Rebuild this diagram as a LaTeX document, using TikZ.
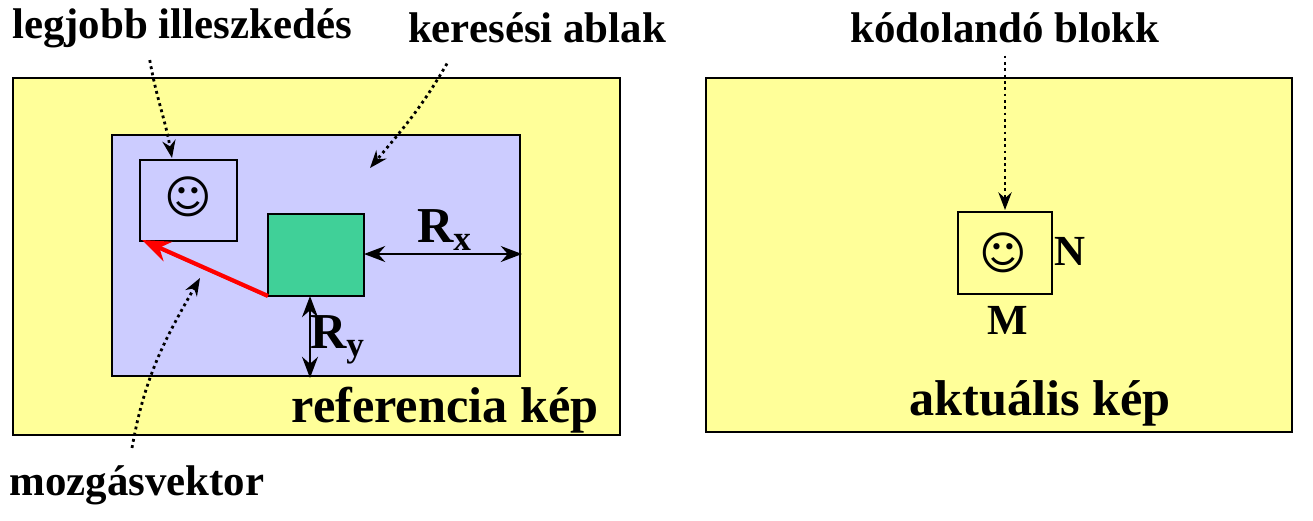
\documentclass[tikz,border=0pt]{standalone}
\usepackage{fontspec}
\setmainfont{Liberation Serif}
\newfontfamily\symf{DejaVu Sans}
\usetikzlibrary{arrows.meta}
\definecolor{yel}{HTML}{FFFF99}
\definecolor{lil}{HTML}{CCCCFF}
\definecolor{grn}{HTML}{40D098}
\tikzset{
 lab/.style={font=\bfseries\fontsize{12.2}{14}\selectfont},
 big/.style={font=\bfseries\fontsize{14.3}{17}\selectfont},
 smile/.style={font=\symf\fontsize{13}{14}\selectfont},
 dotarr/.style={densely dotted,thick,-{Stealth[length=5pt]}},
 dim/.style={thick,{Stealth[length=6pt]}-{Stealth[length=6pt]}},
 box/.style={draw,thick}
}
\begin{document}
\begin{tikzpicture}[x=0.01cm,y=-0.01cm]
\useasboundingbox (0,0) rectangle (1313,520);
\draw[box,fill=yel] (13,78) rectangle (620,435);
\draw[box,fill=lil] (112,135) rectangle (520,376);
\draw[box] (140,160) rectangle (237,241);
\node[smile] (s1) at (188,197) {☺};
\draw[box,fill=grn] (268,214) rectangle (364,296);
\coordinate (gr) at (364,254); \coordinate (re) at (522,254);
\draw[dim] (gr) -- (re);
\node[big] (rx) at (445,230) {R\textsubscript{x}};
\coordinate (gb) at (310,296); \coordinate (pb) at (310,378);
\draw[dim] (gb) -- (pb);
\node[big] (ry) at (338,340) {R\textsubscript{y}};
\coordinate (gc) at (268,296); \coordinate (bm) at (142,240);
\draw[red,very thick,-{Stealth[length=8pt]}] (gc) -- (bm);
\node[big] (ref) at (445,410) {referencia kép};

\draw[box,fill=yel] (706,78) rectangle (1292,432);
\draw[box] (958,212) rectangle (1052,294);
\node[smile] (s2) at (1003,253) {☺};
\node[lab] (n) at (1070,251) {N};
\node[lab] (m) at (1008,320) {M};
\node[big] (akt) at (1040,403) {aktuális kép};

\node[lab] (l1) at (182,28) {legjobb illeszkedés};
\node[lab] (l2) at (537,28) {keresési ablak};
\node[lab] (l3) at (1005,28) {kódolandó blokk};
\node[lab] (l4) at (137,485) {mozgásvektor};
\coordinate (t1) at (172,158); \coordinate (t2) at (370,168);
\coordinate (t3) at (1005,210); \coordinate (t4) at (200,278);
\draw[dotarr] (l1.south west)++(150,0) to[out=-80,in=100] (t1);
\draw[dotarr] (l2.south)++(-90,8) to[out=-120,in=50] (t2);
\draw[dotarr] (l3.south) -- (t3);
\draw[dotarr] (l4.north)++(-5,-5) to[out=80,in=-120] (t4);
\end{tikzpicture}
\end{document}
